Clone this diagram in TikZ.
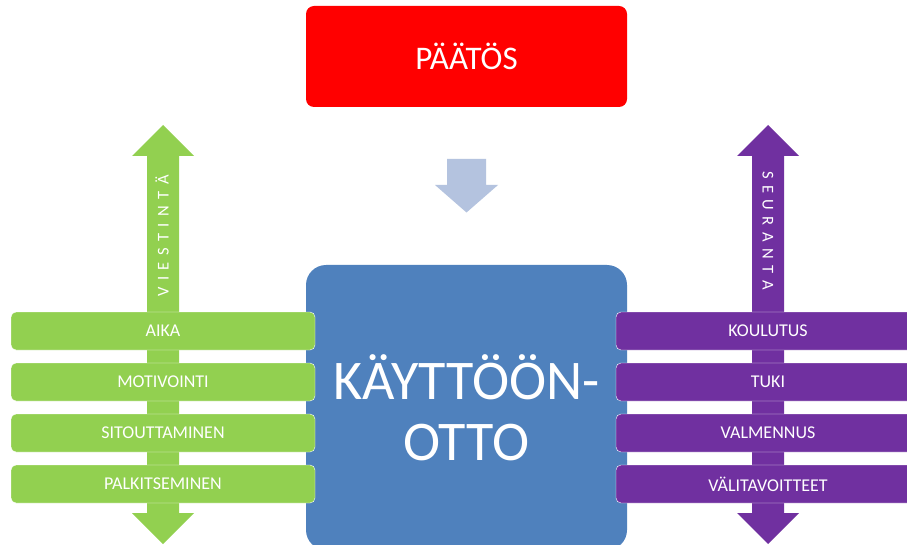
\documentclass[tikz,border=0pt]{standalone}
\usepackage{fontspec}
\setmainfont{Carlito}
\definecolor{kgreen}{HTML}{92D050}
\definecolor{kpurple}{HTML}{7030A0}
\definecolor{kblue}{HTML}{4F81BD}
\definecolor{kred}{HTML}{FF0000}
\definecolor{klight}{HTML}{B4C3DF}
\newcommand{\spc}{\hskip6.5pt}
\begin{document}
\begin{tikzpicture}[x=1pt,y=-1pt,
  bar/.style={rounded corners=5pt, minimum width=304pt, minimum height=38pt, inner sep=0pt,
    text=white, font=\fontsize{18}{20}\selectfont, draw=white, line width=0.4pt},
  gbar/.style={bar, fill=kgreen},
  pbar/.style={bar, fill=kpurple},
  vlabel/.style={text=white, font=\fontsize{16.5}{18}\selectfont, inner sep=0pt}]
\useasboundingbox (0,0) rectangle (907,545);
\fill[white] (0,0) rectangle (907,545);
\begin{scope}
\clip (0,0) rectangle (907,545);
% top decision box
\node[fill=kred, rounded corners=8pt, minimum width=321pt, minimum height=101pt, inner sep=0pt,
  text=white, font=\fontsize{33}{36}\selectfont] (pa) at (466.5,56.5) {PÄÄTÖS};
% down block arrow
\fill[klight] (447,159) -- (486,159) -- (486,185) -- (498,185) -- (466.5,212.5)
  -- (435,185) -- (447,185) -- cycle;
% central box
\node[fill=kblue, rounded corners=20pt, minimum width=321pt, minimum height=285pt, inner sep=0pt,
  text=white, align=center, font=\fontsize{56}{61}\selectfont] (ko) at (466.5,407.5)
  {KÄYTTÖÖN-\\OTTO};
% green double arrow
\fill[kgreen] (163,125) -- (194,156) -- (179,156) -- (179,513) -- (194,513) -- (163,544)
  -- (132,513) -- (147,513) -- (147,156) -- (132,156) -- cycle;
\node[vlabel, rotate=90] (vi) at (162,236)
  {V\spc I\spc E\spc S\spc T\spc I\spc N\spc T\spc Ä};
% purple double arrow
\fill[kpurple] (768,125) -- (799,156) -- (784,156) -- (784,513) -- (799,513) -- (768,544)
  -- (737,513) -- (752,513) -- (752,156) -- (737,156) -- cycle;
\node[vlabel, rotate=-90] (se) at (768,230.5)
  {S\spc E\spc U\spc R\spc A\spc N\spc T\spc A};
% green bars
\node[gbar] (g1) at (163,331) {AIKA};
\node[gbar] (g2) at (163,382) {MOTIVOINTI};
\node[gbar] (g3) at (163,433) {SITOUTTAMINEN};
\node[gbar] (g4) at (163,484) {PALKITSEMINEN};
% purple bars
\node[pbar] (p1) at (768,331) {KOULUTUS};
\node[pbar] (p2) at (768,382) {TUKI};
\node[pbar] (p3) at (768,433) {VALMENNUS};
\node[pbar] (p4) at (768,484) {VÄLITAVOITTEET};
\end{scope}
\end{tikzpicture}
\end{document}
